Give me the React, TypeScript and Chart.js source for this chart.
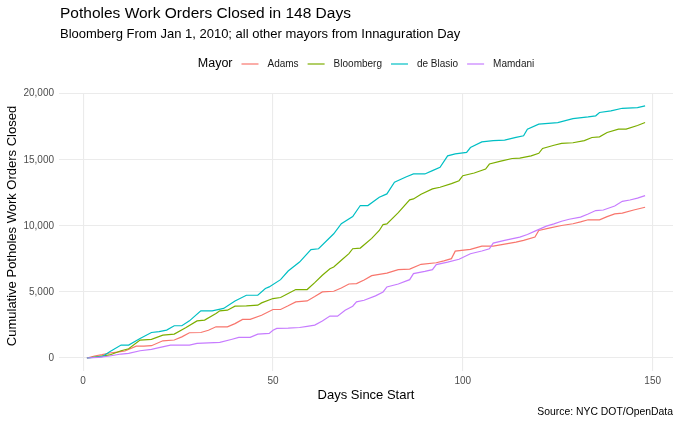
import { useEffect, useRef } from "react";
import { Chart, registerables, type Plugin } from "chart.js";

Chart.register(...registerables);

const FONT = '"Liberation Sans", Arial, sans-serif';

const TITLE = "Potholes Work Orders Closed in 148 Days";
const SUBTITLE = "Bloomberg From Jan 1, 2010; all other mayors from Innaguration Day";
const CAPTION = "Source: NYC DOT/OpenData";
const X_TITLE = "Days Since Start";
const Y_TITLE = "Cumulative Potholes Work Orders Closed";
const LEGEND_TITLE = "Mayor";

const MAYORS = ["Adams", "Bloomberg", "de Blasio", "Mamdani"];
const COLORS = ["#F8766D", "#7CAE00", "#00BFC4", "#C77CFF"];

const X_TICKS = [0, 50, 100, 150];
const Y_TICKS = [0, 5000, 10000, 15000, 20000];

const adamsDays = [1, 3, 5, 7, 9, 11, 14, 16, 18, 21, 24, 26, 28, 31, 33, 35, 38, 40, 42, 44, 47, 50, 52, 54, 56, 59, 61, 63, 66, 68, 70, 72, 74, 76, 78, 80, 83, 86, 89, 93, 95, 97, 98, 102, 105, 108, 111, 114, 116, 119, 120, 123, 126, 129, 131, 133, 136, 138, 140, 142, 145, 148];
const adamsClosed = [0, 150, 250, 380, 450, 530, 900, 900, 930, 1300, 1360, 1600, 1910, 1930, 2100, 2360, 2360, 2600, 2920, 2920, 3240, 3670, 3670, 3950, 4250, 4320, 4650, 5000, 5050, 5300, 5600, 5630, 5900, 6230, 6330, 6430, 6690, 6730, 7090, 7210, 7350, 7520, 8090, 8220, 8470, 8470, 8620, 8770, 8900, 9150, 9650, 9850, 10030, 10160, 10300, 10460, 10460, 10700, 10910, 10960, 11200, 11410];

const bloombergDays = [1, 4, 7, 10, 12, 15, 18, 21, 24, 27, 30, 32, 35, 36, 38, 40, 43, 46, 47, 50, 52, 54, 56, 59, 61, 63, 65, 66, 68, 70, 71, 73, 76, 78, 79, 80, 83, 86, 87, 89, 92, 94, 97, 99, 100, 103, 106, 107, 110, 113, 115, 118, 120, 121, 124, 126, 129, 132, 134, 136, 138, 141, 143, 146, 148];
const bloombergClosed = [0, 100, 230, 550, 700, 1360, 1410, 1730, 1810, 2290, 2810, 2870, 3370, 3570, 3620, 3920, 3950, 4000, 4170, 4500, 4580, 4880, 5180, 5180, 5700, 6260, 6760, 6890, 7400, 7900, 8270, 8320, 9050, 9650, 10100, 10150, 11000, 11970, 12040, 12400, 12800, 12920, 13200, 13420, 13800, 14000, 14300, 14680, 14900, 15100, 15130, 15300, 15490, 15860, 16100, 16240, 16290, 16450, 16690, 16740, 17070, 17320, 17320, 17600, 17820];

const deBlasioDays = [1, 5, 7, 10, 12, 15, 18, 20, 22, 24, 26, 28, 31, 34, 37, 40, 43, 46, 48, 49, 52, 54, 57, 60, 62, 66, 68, 71, 73, 75, 78, 80, 82, 85, 87, 90, 92, 94, 96, 98, 101, 102, 105, 108, 111, 114, 116, 117, 120, 125, 129, 133, 135, 136, 139, 142, 146, 148];
const deBlasioClosed = [0, 100, 480, 980, 980, 1480, 1930, 1990, 2110, 2440, 2440, 2810, 3570, 3570, 3750, 4320, 4750, 4750, 5260, 5380, 5930, 6580, 7260, 8200, 8270, 9400, 10160, 10700, 11540, 11540, 12170, 12420, 13300, 13700, 13930, 13930, 14180, 14430, 15300, 15450, 15560, 15930, 16360, 16450, 16490, 16700, 16820, 17320, 17700, 17820, 18120, 18250, 18330, 18580, 18700, 18900, 18950, 19080];

const mamdaniDays = [1, 4, 7, 10, 12, 15, 18, 20, 23, 28, 30, 33, 36, 39, 41, 44, 46, 49, 50, 51, 54, 57, 59, 61, 63, 65, 67, 69, 71, 72, 74, 77, 79, 80, 83, 86, 87, 90, 92, 93, 96, 99, 102, 105, 107, 108, 111, 115, 117, 119, 122, 124, 126, 128, 131, 133, 135, 137, 140, 142, 144, 146, 148];
const mamdaniClosed = [0, 50, 150, 300, 350, 550, 650, 780, 980, 980, 1100, 1150, 1180, 1400, 1560, 1560, 1810, 1860, 2100, 2240, 2260, 2310, 2400, 2490, 2800, 3170, 3170, 3620, 3920, 4250, 4370, 4700, 5000, 5380, 5600, 5930, 6390, 6550, 6690, 7070, 7250, 7470, 7890, 8100, 8270, 8700, 8900, 9150, 9350, 9600, 9980, 10150, 10350, 10500, 10660, 10900, 11160, 11200, 11500, 11860, 11960, 12100, 12290];

const SERIES_DAYS = [adamsDays, bloombergDays, deBlasioDays, mamdaniDays];
const SERIES_CLOSED = [adamsClosed, bloombergClosed, deBlasioClosed, mamdaniClosed];

// ggplot-style 5% expansion of the data range
function expand(values: number[][]) {
  const all = values.flat();
  const lo = Math.min(...all);
  const hi = Math.max(...all);
  const pad = (hi - lo) * 0.05;
  return { min: lo - pad, max: hi + pad };
}

const ggText: Plugin<"line"> = {
  id: "ggText",
  afterDraw(chart) {
    const { ctx, chartArea } = chart;
    const cx = (chartArea.left + chartArea.right) / 2;
    ctx.save();
    ctx.fillStyle = "#000";
    ctx.textAlign = "left";
    ctx.textBaseline = "alphabetic";
    ctx.font = `15.5px ${FONT}`;
    ctx.fillText(TITLE, chartArea.left + 1, 18.3);
    ctx.font = `13px ${FONT}`;
    ctx.fillText(SUBTITLE, chartArea.left + 1, 37.7);

    // legend: title then key + label pairs, centred over the panel
    ctx.textBaseline = "middle";
    ctx.font = `12.5px ${FONT}`;
    const titleW = ctx.measureText(LEGEND_TITLE).width;
    ctx.font = `10px ${FONT}`;
    const labelW = MAYORS.map((m) => ctx.measureText(m).width);
    const total = titleW + labelW.reduce((s, w) => s + 9 + 17 + 9 + w, 0);
    let x = cx - total / 2;
    const ly = 64;
    ctx.font = `12.5px ${FONT}`;
    ctx.fillStyle = "#000";
    ctx.fillText(LEGEND_TITLE, x, ly);
    x += titleW;
    ctx.font = `10px ${FONT}`;
    MAYORS.forEach((m, i) => {
      x += 9;
      ctx.strokeStyle = COLORS[i];
      ctx.lineWidth = 1.2;
      ctx.beginPath();
      ctx.moveTo(x, ly);
      ctx.lineTo(x + 17, ly);
      ctx.stroke();
      x += 17 + 9;
      ctx.fillStyle = "#1a1a1a";
      ctx.fillText(m, x, ly);
      x += labelW[i];
    });

    // axis titles
    ctx.fillStyle = "#000";
    ctx.textAlign = "center";
    ctx.font = `13px ${FONT}`;
    ctx.fillText(X_TITLE, cx, 395);
    ctx.save();
    ctx.translate(12, 226);
    ctx.rotate(-Math.PI / 2);
    ctx.fillText(Y_TITLE, 0, 0);
    ctx.restore();

    // caption
    ctx.textAlign = "right";
    ctx.font = `10.4px ${FONT}`;
    ctx.fillText(CAPTION, chartArea.right, 412);
    ctx.restore();
  },
};

export default function App() {
  const canvasRef = useRef<HTMLCanvasElement>(null);
  const chartRef = useRef<Chart | null>(null);

  useEffect(() => {
    document.body.style.margin = "0";
    if (!canvasRef.current) return;
    chartRef.current?.destroy();

    const xr = expand(SERIES_DAYS);
    const yr = expand(SERIES_CLOSED);

    chartRef.current = new Chart(canvasRef.current, {
      type: "line",
      data: {
        datasets: MAYORS.map((name, i) => ({
          label: name,
          data: SERIES_DAYS[i].map((d, j) => ({ x: d, y: SERIES_CLOSED[i][j] })),
          borderColor: COLORS[i],
          borderWidth: 1.2,
          pointRadius: 0,
          tension: 0,
          fill: false,
          order: MAYORS.length - i,
        })),
      },
      options: {
        animation: false,
        responsive: true,
        maintainAspectRatio: false,
        layout: { padding: { top: 93.3, right: 7, left: 0, bottom: 0 } },
        plugins: {
          legend: { display: false },
          tooltip: { enabled: false },
        },
        scales: {
          x: {
            type: "linear",
            min: xr.min,
            max: xr.max,
            afterBuildTicks: (scale) => {
              scale.ticks = X_TICKS.map((v) => ({ value: v }));
            },
            afterFit: (scale) => {
              scale.height = 54.4;
            },
            grid: { color: "#ebebeb", lineWidth: 1.1, drawTicks: false },
            border: { display: false },
            ticks: {
              color: "#4d4d4d",
              font: { family: FONT, size: 10 },
              padding: 5,
              maxRotation: 0,
            },
          },
          y: {
            type: "linear",
            min: yr.min,
            max: yr.max,
            afterBuildTicks: (scale) => {
              scale.ticks = Y_TICKS.map((v) => ({ value: v }));
            },
            afterFit: (scale) => {
              scale.width = 59;
            },
            grid: { color: "#ebebeb", lineWidth: 1.1, drawTicks: false },
            border: { display: false },
            ticks: {
              color: "#4d4d4d",
              font: { family: FONT, size: 10 },
              padding: 5,
              callback: (v) => Number(v).toLocaleString("en-US"),
            },
          },
        },
      },
      plugins: [ggText],
    });

    return () => {
      chartRef.current?.destroy();
      chartRef.current = null;
    };
  }, []);

  return (
    <div style={{ position: "relative", width: 680, height: 425, background: "#fff" }}>
      <canvas ref={canvasRef} />
    </div>
  );
}
